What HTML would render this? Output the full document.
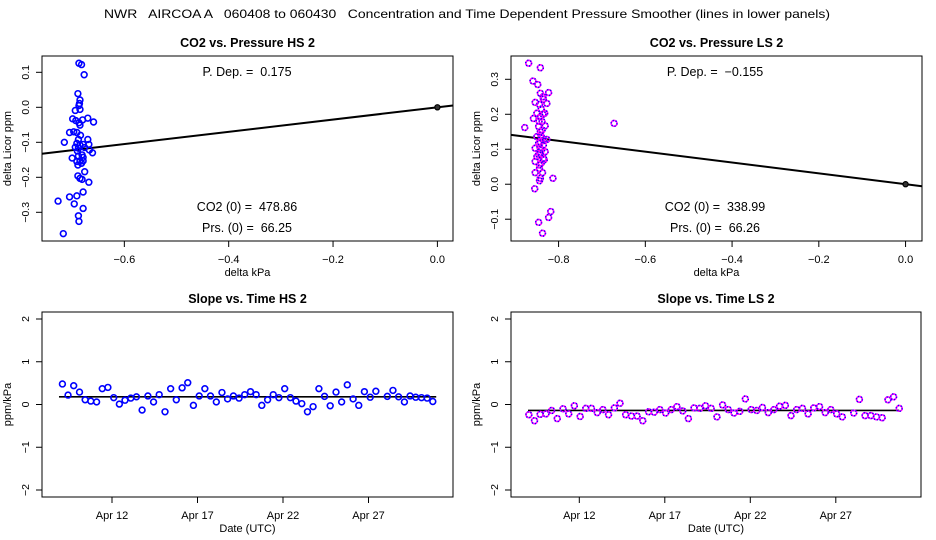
<!DOCTYPE html>
<html><head><meta charset="utf-8"><style>
html,body{margin:0;padding:0;background:#fff;}
svg{display:block;font-family:"Liberation Sans",sans-serif;}
svg text{white-space:pre;}
</style></head><body>
<svg id="chart" width="936" height="540" viewBox="0 0 936 540">
<text x="467" y="18" text-anchor="middle" font-size="12" textLength="726" lengthAdjust="spacingAndGlyphs" xml:space="preserve">NWR   AIRCOA A   060408 to 060430   Concentration and Time Dependent Pressure Smoother (lines in lower panels)</text>
</svg>
<script>
// ---- Top-left data (HS) ----
const hsDx = [-0.687,-0.682,-0.677,-0.689,-0.685,-0.686,-0.687,-0.694,-0.685,-0.699,-0.693,-0.687,-0.680,-0.670,-0.659,-0.685,-0.705,-0.697,-0.691,-0.715,-0.688,-0.670,-0.691,-0.685,-0.679,-0.668,-0.694,-0.688,-0.676,-0.667,-0.661,-0.700,-0.688,-0.681,-0.679,-0.691,-0.685,-0.679,-0.689,-0.676,-0.689,-0.685,-0.681,-0.668,-0.679,-0.705,-0.691,-0.696,-0.679,-0.727,-0.688,-0.687,-0.717,-0.684,-0.690,-0.682];
const hsDy = [0.126,0.122,0.093,0.039,0.021,0.011,0.005,-0.009,-0.006,-0.033,-0.038,-0.044,-0.036,-0.031,-0.042,-0.051,-0.072,-0.070,-0.072,-0.100,-0.092,-0.092,-0.103,-0.108,-0.106,-0.106,-0.114,-0.117,-0.115,-0.122,-0.130,-0.145,-0.139,-0.136,-0.143,-0.155,-0.153,-0.153,-0.165,-0.184,-0.196,-0.203,-0.206,-0.214,-0.242,-0.256,-0.253,-0.276,-0.289,-0.268,-0.310,-0.326,-0.361,-0.080,-0.125,-0.160];
const hsSlope = 0.175;
// ---- Top-right data (LS) ----
const lsDx = [-0.869,-0.842,-0.859,-0.848,-0.842,-0.823,-0.854,-0.835,-0.844,-0.827,-0.850,-0.832,-0.878,-0.858,-0.842,-0.672,-0.838,-0.846,-0.831,-0.842,-0.850,-0.827,-0.846,-0.835,-0.854,-0.831,-0.842,-0.850,-0.835,-0.854,-0.844,-0.854,-0.837,-0.842,-0.813,-0.844,-0.855,-0.818,-0.823,-0.846,-0.837,-0.840,-0.836,-0.845,-0.838,-0.841,-0.834,-0.843,-0.839,-0.846,-0.833,-0.840,-0.844,-0.836,-0.842,-0.838];
const lsDy = [0.346,0.333,0.295,0.285,0.260,0.262,0.234,0.243,0.228,0.231,0.203,0.203,0.162,0.188,0.193,0.174,0.179,0.165,0.167,0.150,0.136,0.128,0.117,0.112,0.103,0.093,0.088,0.079,0.074,0.065,0.055,0.033,0.033,0.017,0.017,0.010,-0.013,-0.078,-0.095,-0.109,-0.140,0.215,0.200,0.180,0.155,0.140,0.125,0.105,0.098,0.085,0.070,0.060,0.045,0.250,0.120,0.132];
const lsSlope = -0.155;
// ---- Bottom-left data (HS slope vs time) ----
const hsDays = [9.10,9.43,9.76,10.10,10.43,10.76,11.10,11.43,11.76,12.10,12.43,12.76,13.10,13.43,13.76,14.10,14.43,14.76,15.10,15.43,15.76,16.10,16.43,16.76,17.10,17.43,17.76,18.10,18.43,18.76,19.10,19.43,19.76,20.10,20.43,20.76,21.10,21.43,21.76,22.10,22.43,22.76,23.10,23.43,23.76,24.10,24.43,24.76,25.10,25.43,25.76,26.10,26.43,26.76,27.10,27.43,28.10,28.43,28.76,29.10,29.43,29.76,30.10,30.43,30.76];
const hsSlopes = [0.48,0.22,0.44,0.29,0.11,0.08,0.06,0.37,0.40,0.16,0.01,0.10,0.15,0.18,-0.13,0.20,0.06,0.23,-0.17,0.37,0.11,0.39,0.51,-0.02,0.20,0.37,0.20,0.06,0.28,0.13,0.20,0.15,0.23,0.30,0.23,-0.02,0.11,0.23,0.16,0.37,0.16,0.08,0.02,-0.17,-0.05,0.37,0.19,-0.03,0.29,0.06,0.46,0.13,-0.02,0.30,0.17,0.31,0.19,0.33,0.18,0.06,0.20,0.17,0.16,0.15,0.07];
const hsSmooth = 0.18;
// ---- Bottom-right data (LS slope vs time) ----
const lsDays = [9.05,9.38,9.71,10.05,10.38,10.71,11.05,11.38,11.71,12.05,12.38,12.71,13.05,13.38,13.71,14.05,14.38,14.71,15.05,15.38,15.71,16.05,16.38,16.71,17.05,17.38,17.71,18.05,18.38,18.71,19.05,19.38,19.71,20.05,20.38,20.71,21.05,21.38,21.71,22.05,22.38,22.71,23.05,23.38,23.71,24.05,24.38,24.71,25.05,25.38,25.71,26.05,26.38,26.71,27.05,27.38,28.05,28.38,28.71,29.05,29.38,29.71,30.05,30.38,30.71];
const lsSlopes = [-0.24,-0.38,-0.23,-0.22,-0.14,-0.33,-0.10,-0.22,-0.03,-0.28,-0.09,-0.09,-0.19,-0.12,-0.24,-0.08,0.03,-0.24,-0.27,-0.27,-0.38,-0.17,-0.18,-0.12,-0.20,-0.12,-0.05,-0.15,-0.33,-0.08,-0.09,-0.03,-0.09,-0.29,-0.01,-0.12,-0.20,-0.16,0.13,-0.12,-0.14,-0.07,-0.19,-0.12,-0.04,-0.02,-0.26,-0.12,-0.09,-0.22,-0.08,-0.05,-0.19,-0.12,-0.22,-0.29,-0.20,0.12,-0.26,-0.26,-0.29,-0.31,0.11,0.18,-0.09,-0.02];
const lsSmooth = -0.14;
// ---- ticks ----
const hsXTicks = [-0.6,-0.4,-0.2,0.0];
const hsYTicks = [0.1,0.0,-0.1,-0.2,-0.3];
const lsXTicks = [-0.8,-0.6,-0.4,-0.2,0.0];
const lsYTicks = [0.3,0.2,0.1,0.0,-0.1];
const dayTicks = [12,17,22,27];
const dayTickLabels = ["Apr 12","Apr 17","Apr 22","Apr 27"];
const slopeTicks = [2,1,0,-1,-2];

const NS="http://www.w3.org/2000/svg";
const svg=document.getElementById('chart');
function mk(tag,attrs,parent){const e=document.createElementNS(NS,tag);for(const k in attrs)e.setAttribute(k,attrs[k]);(parent||svg).appendChild(e);return e;}
function fmt(v,d){const s=v.toFixed(d);return v<0?'\u2212'+s.slice(1):s;}

function panel(o){
  const g=mk('g',{});
  
  
  const X=v=>o.x0+(v-o.xmin)/(o.xmax-o.xmin)*(o.x1-o.x0);
  const Y=v=>o.y1-(v-o.ymin)/(o.ymax-o.ymin)*(o.y1-o.y0);
  const t=mk('text',{x:(o.x0+o.x1)/2,y:o.y0-9,'text-anchor':'middle','font-size':'12.5','font-weight':'bold'},g);
  t.textContent=o.title;
  
  
  const fr=mk('rect',{x:o.x0,y:o.y0,width:o.x1-o.x0,height:o.y1-o.y0,fill:'none',stroke:'#000','stroke-width':1},g);
  
  
  o.xt.forEach((v,i)=>{
    const px=X(v);
    mk('line',{x1:px,x2:px,y1:o.y1,y2:o.y1+6,stroke:'#000'},g);
    const tl=mk('text',{x:px,y:o.y1+22,'text-anchor':'middle','font-size':'11'},g);
    tl.textContent=o.xl?o.xl[i]:fmt(v,1);
    
    
  });
  o.yt.forEach(v=>{
    const py=Y(v);
    mk('line',{x1:o.x0-6,x2:o.x0,y1:py,y2:py,stroke:'#000'},g);
    const tl=mk('text',{x:o.x0-13,y:py,'text-anchor':'middle','font-size':'10.5',transform:`rotate(-90 ${o.x0-13} ${py})`},g);
    tl.textContent=o.yfmt(v);
    
    
  });
  const xl=mk('text',{x:(o.x0+o.x1)/2,y:o.y1+35,'text-anchor':'middle','font-size':'11'},g);
  xl.textContent=o.xlabel;
  
  
  const yl=mk('text',{x:o.x0-31,y:(o.y0+o.y1)/2,'text-anchor':'middle','font-size':'11',transform:`rotate(-90 ${o.x0-31} ${(o.y0+o.y1)/2})`},g);
  yl.textContent=o.ylabel;
  
  
  return {g,X,Y};
}
function pts(p,xs,ys,magenta){
  xs.forEach((xv,i)=>{
    const c=mk('circle',{cx:p.X(xv),cy:p.Y(ys[i]),r:2.9,fill:'none',stroke:magenta?'#ff00ff':'#0000ff','stroke-width':1.6},p.g);
    
    
    if(magenta){mk('circle',{cx:p.X(xv),cy:p.Y(ys[i]),r:2.9,fill:'none',stroke:'#0000ff','stroke-width':1.6,'stroke-dasharray':'1 2'},p.g);}
  });
}
function txt(p,x,y,s,name){const t=mk('text',{x,y,'text-anchor':'middle','font-size':'12.5'},p.g);t.setAttributeNS('http://www.w3.org/XML/1998/namespace','xml:space','preserve');t.textContent=s;}

const p1=panel({name:'panel-co2-pressure-hs',title:'CO2 vs. Pressure HS 2',x0:42,x1:453,y0:56,y1:241,xmin:-0.7578,xmax:0.0299,ymin:-0.382,ymax:0.1466,xt:hsXTicks,yt:hsYTicks,yfmt:v=>fmt(v,1),xlabel:'delta kPa',ylabel:'delta Licor ppm'});
{const l=mk('line',{x1:p1.X(-0.7578),y1:p1.Y(-0.7578*hsSlope),x2:p1.X(0.0299),y2:p1.Y(0.0299*hsSlope),stroke:'#000','stroke-width':2},p1.g);}
pts(p1,hsDx,hsDy,false);
mk('circle',{cx:p1.X(0),cy:p1.Y(0),r:2.6,fill:'#333',stroke:'#000','stroke-width':1.2},p1.g);
txt(p1,247,76,'P. Dep. =  0.175','p-dep-label');
txt(p1,247,211,'CO2 (0) =  478.86','co2-zero-label');
txt(p1,247,232,'Prs. (0) =  66.25','prs-zero-label');

const p2=panel({name:'panel-co2-pressure-ls',title:'CO2 vs. Pressure LS 2',x0:511,x1:922,y0:56,y1:241,xmin:-0.9097,xmax:0.0379,ymin:-0.1623,ymax:0.3666,xt:lsXTicks,yt:lsYTicks,yfmt:v=>fmt(v,1),xlabel:'delta kPa',ylabel:'delta Licor ppm'});
{const l=mk('line',{x1:p2.X(-0.9097),y1:p2.Y(-0.9097*lsSlope),x2:p2.X(0.0379),y2:p2.Y(0.0379*lsSlope),stroke:'#000','stroke-width':2},p2.g);}
pts(p2,lsDx,lsDy,true);
mk('circle',{cx:p2.X(0),cy:p2.Y(0),r:2.6,fill:'#333',stroke:'#000','stroke-width':1.2},p2.g);
txt(p2,715,76,'P. Dep. =  \u22120.155','p-dep-label');
txt(p2,715,211,'CO2 (0) =  338.99','co2-zero-label');
txt(p2,715,232,'Prs. (0) =  66.26','prs-zero-label');

const p3=panel({name:'panel-slope-time-hs',title:'Slope vs. Time HS 2',x0:42,x1:453,y0:312,y1:497,xmin:12+(42-112)/17.1,xmax:12+(453-112)/17.1,ymin:-2+(490-497)/42.75,ymax:2+(319-312)/42.75,xt:dayTicks,xl:dayTickLabels,yt:slopeTicks,yfmt:v=>v<0?'\u2212'+(-v):String(v),xlabel:'Date (UTC)',ylabel:'ppm/kPa'});
{const l=mk('line',{x1:p3.X(hsDays[0]-0.2),y1:p3.Y(hsSmooth),x2:p3.X(hsDays[hsDays.length-1]+0.2),y2:p3.Y(hsSmooth),stroke:'#000','stroke-width':1.6},p3.g);}
pts(p3,hsDays,hsSlopes,false);

const p4=panel({name:'panel-slope-time-ls',title:'Slope vs. Time LS 2',x0:511,x1:921,y0:312,y1:497,xmin:12+(511-579.3)/17.1,xmax:12+(921-579.3)/17.1,ymin:-2+(490-497)/42.75,ymax:2+(319-312)/42.75,xt:dayTicks,xl:dayTickLabels,yt:slopeTicks,yfmt:v=>v<0?'\u2212'+(-v):String(v),xlabel:'Date (UTC)',ylabel:'ppm/kPa'});
{const l=mk('line',{x1:p4.X(lsDays[0]-0.05),y1:p4.Y(lsSmooth),x2:p4.X(lsDays[lsDays.length-1]),y2:p4.Y(lsSmooth),stroke:'#000','stroke-width':1.6},p4.g);}
pts(p4,lsDays,lsSlopes,true);
</script>
</body></html>
